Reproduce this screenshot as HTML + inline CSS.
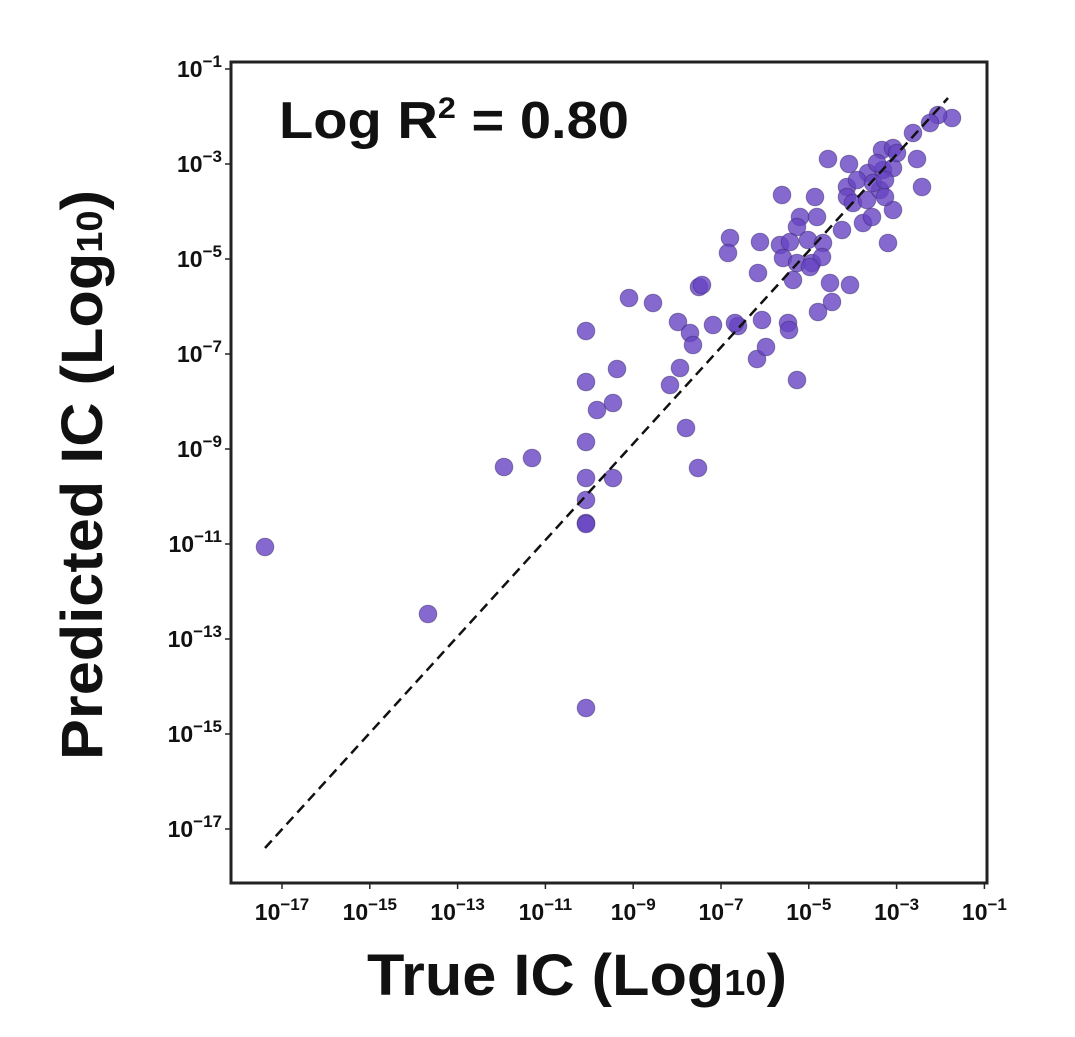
<!DOCTYPE html>
<html><head><meta charset="utf-8"><style>
body{margin:0;background:#fff}
svg text{font-family:"Liberation Sans",sans-serif;font-weight:bold;fill:#111}
</style></head><body>
<svg width="1075" height="1032" viewBox="0 0 1075 1032" xmlns="http://www.w3.org/2000/svg">
<rect x="231" y="62" width="756" height="821" fill="none" stroke="#222" stroke-width="3"/>
<g id="dots" fill="#6643c2" fill-opacity="0.8" stroke="#3a2a70" stroke-opacity="0.5" stroke-width="1"></g>
<line x1="265" y1="848" x2="948" y2="98" stroke="#111" stroke-width="2.5" stroke-dasharray="10,6"/>
<g id="ticks" stroke="#222" stroke-width="1.5"></g>
<g id="labels" font-size="23"></g>
<text x="279" y="138" font-size="52" textLength="350" lengthAdjust="spacingAndGlyphs">Log R<tspan dy="-20" font-size="30">2</tspan><tspan dy="20"> = 0.80</tspan></text>
<text x="577" y="995" font-size="58" text-anchor="middle" textLength="420" lengthAdjust="spacingAndGlyphs">True IC (Log<tspan font-size="36">10</tspan>)</text>
<text transform="translate(102,475) rotate(-90)" font-size="58" text-anchor="middle" textLength="570" lengthAdjust="spacingAndGlyphs">Predicted IC (Log<tspan font-size="36">10</tspan>)</text>
</svg>
<script>
var pts=[[265,547],[428,614],[586,708],[504,467],[532,458],[586,331],[586,382],[586,442],[586,478],[586,500],[586,523],[586,524],[597,410],[613,403],[613,478],[617,369],[629,298],[653,303],[678,322],[670,385],[680,368],[690,333],[693,345],[686,428],[699,287],[698,468],[713,325],[738,326],
[828,159],[849,164],[922,187],[917,159],[952,118],[938,115],[930,123],[913,133],[882,150],[893,148],[782,195],[815,197],[730,238],[728,253],[760,242],[758,273],[702,285],[830,283],[850,285],[832,302],[818,312],[762,320],[788,323],[735,323],[888,243],[893,210],[863,223],[842,230],[800,217],[817,217],[797,227],[780,245],[790,242],[808,240],[823,243],[783,258],[797,263],[812,263],[822,257],[793,280],[810,267],[847,187],[847,197],[853,203],[867,200],[880,190],[868,173],[883,170],[893,168],[877,163],[897,153],[857,180],[873,183],[885,197],[872,217],[885,180],[757,359],[766,347],[797,380],[789,330]];
var ns="http://www.w3.org/2000/svg",g=document.getElementById("dots");
pts.forEach(function(p){var c=document.createElementNS(ns,"circle");c.setAttribute("cx",p[0]);c.setAttribute("cy",p[1]);c.setAttribute("r",8.8);g.appendChild(c);});
var t=document.getElementById("ticks"),l=document.getElementById("labels");
for(var i=0;i<9;i++){var e=-17+2*i;
 var x=282+i*87.8;var ln=document.createElementNS(ns,"line");ln.setAttribute("x1",x);ln.setAttribute("x2",x);ln.setAttribute("y1",883);ln.setAttribute("y2",889);t.appendChild(ln);
 var tx=document.createElementNS(ns,"text");tx.setAttribute("x",x);tx.setAttribute("y",920);tx.setAttribute("text-anchor","middle");tx.innerHTML='10<tspan dy="-10" font-size="17">\u2212'+(-e)+'</tspan>';l.appendChild(tx);
 var ee=-1-2*i;var y=69+i*95;var ly=document.createElementNS(ns,"line");ly.setAttribute("x1",225);ly.setAttribute("x2",231);ly.setAttribute("y1",y);ly.setAttribute("y2",y);t.appendChild(ly);
 var ty=document.createElementNS(ns,"text");ty.setAttribute("x",222);ty.setAttribute("y",y+8);ty.setAttribute("text-anchor","end");ty.innerHTML='10<tspan dy="-10" font-size="17">\u2212'+(-ee)+'</tspan>';l.appendChild(ty);}
</script>
</body></html>
